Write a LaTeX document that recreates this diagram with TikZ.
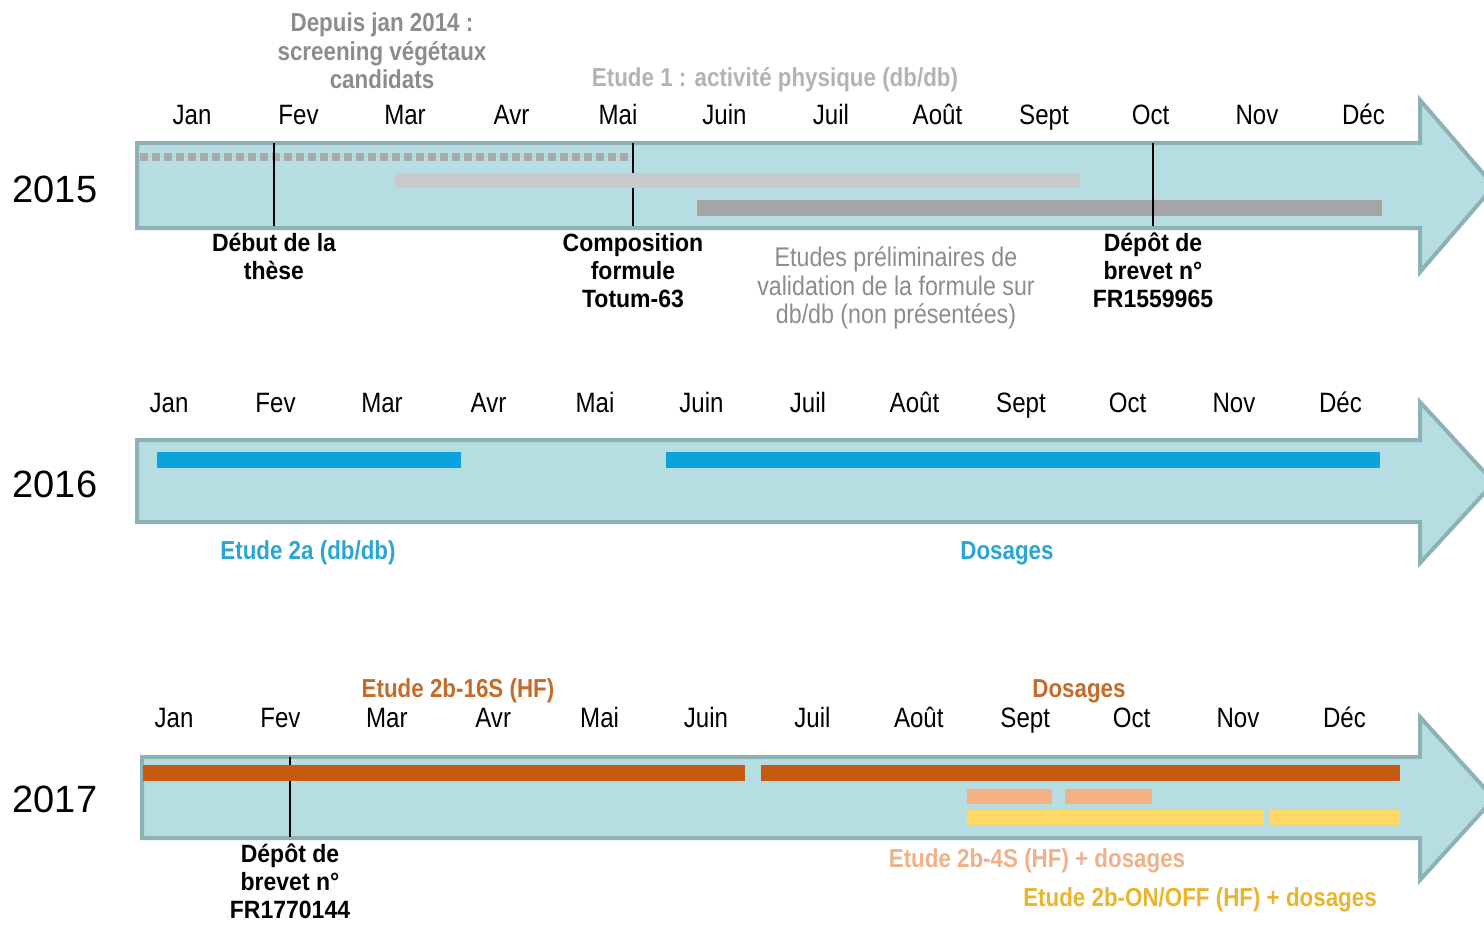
\documentclass[tikz,border=0pt]{standalone}
\usepackage{fontspec}
\setmainfont{Liberation Sans}
\newfontfamily\narrowfont[FakeStretch=0.86]{Liberation Sans}
\newfontfamily\notefont[FakeStretch=0.92]{Liberation Sans}
\usetikzlibrary{positioning}

\definecolor{tlfill}{HTML}{B6DEE2}
\definecolor{tlline}{HTML}{8DB2B5}
\definecolor{lightgrey}{HTML}{C9C9C9}
\definecolor{darkgrey}{HTML}{A5A5A5}
\definecolor{dashgrey}{HTML}{ABABAB}
\definecolor{textgrey}{HTML}{8C8C8C}
\definecolor{palegrey}{HTML}{B3B3B3}
\definecolor{dbblue}{HTML}{0AA3DB}
\definecolor{textblue}{HTML}{2AA6D3}
\definecolor{hforange}{HTML}{C55A11}
\definecolor{textorange}{HTML}{C46B2A}
\definecolor{lightorange}{HTML}{F4B183}
\definecolor{textlightorange}{HTML}{F0B08A}
\definecolor{onoffyellow}{HTML}{FFD966}
\definecolor{textyellow}{HTML}{E9B52E}

\begin{document}
\begin{tikzpicture}[
		x=0.5pt, y=-0.5pt
		,month/.style={font=\narrowfont\fontsize{14}{16}\selectfont, text height=1.6ex, text depth=.35ex}
		,year/.style={font=\fontsize{19}{22}\selectfont}
		,note/.style={align=center, font=\notefont\bfseries\fontsize{12.5}{14}\selectfont}
		,info/.style={align=center, font=\narrowfont\bfseries\fontsize{13}{14.2}\selectfont}
		,tl/.style={draw=tlline, fill=tlfill, line width=2pt, line join=miter}
		,bar/.style={line width=7.5pt}
		,marker/.style={black, line width=.7pt}
	]
	\useasboundingbox (0,0) rectangle (1484,926);

	% the three year arrows
	\foreach \t/\b/\ht/\hb/\l in {143/228/100/272/137, 440/522/402/563/137, 757/838/717/880/142}
		\draw[tl] (\l,\t) -- (1420,\t) -- (1420,\ht) -- (1494,{(\ht+\hb)/2}) -- (1420,\hb) -- (1420,\b) -- (\l,\b) -- cycle;

	\node[year] (y2015) at (55,189) {2015};
	\node[year] (y2016) at (55,484) {2016};
	\node[year] (y2017) at (55,799) {2017};

	\foreach \m [count=\i from 0] in {Jan,Fev,Mar,Avr,Mai,Juin,Juil,Août,Sept,Oct,Nov,Déc} {
		\node[month] (a\i) at ({192+106.5*\i},118) {\m};
		\node[month] (b\i) at ({169+106.5*\i},406) {\m};
		\node[month] (c\i) at ({174+106.4*\i},721) {\m};
	}

	% 2015
	\draw[bar, dashgrey, line width=4pt, dash pattern=on 4pt off 2pt] (140,157) -- (632,157);
	\draw[bar, darkgrey, line width=8pt] (697,208) -- (1382,208);
	\foreach \x/\n in {274/debut, 633/compo, 1153/brevetA} {
		\coordinate (\n-t) at (\x,143);
		\coordinate (\n-b) at (\x,226);
		\draw[marker] (\n-t) -- (\n-b);
	}
	\draw[bar, lightgrey] (395,180) -- (1080,180);

	\node[note, below=0pt of debut-b] (debut) {Début de la\\thèse};
	\node[note, below=0pt of compo-b] (compo) {Composition\\formule\\Totum-63};
	\node[note, below=0pt of brevetA-b] (brevetA) {Dépôt de\\brevet n°\\FR1559965};
	\node[info, textgrey] (depuis) at (382,51) {Depuis jan 2014 :\\screening végétaux\\candidats};
	\node[info, palegrey] (etude1) at (775,80) {Etude 1 : activité physique (db/db)};
	\node[align=center, textgrey, font=\narrowfont\fontsize{13.5}{14.3}\selectfont] (prelim) at (896,288)
		{Etudes préliminaires de\\validation de la formule sur\\db/db (non présentées)};

	% 2016
	\draw[bar, dbblue, line width=8pt] (157,460) -- (461,460);
	\draw[bar, dbblue, line width=8pt] (666,460) -- (1380,460);
	\node[info, textblue] (etude2a) at (308,553) {Etude 2a (db/db)};
	\node[info, textblue] (dosagesA) at (1007,553) {Dosages};

	% 2017
	\coordinate (brevetB-t) at (290,757);
	\coordinate (brevetB-b) at (290,837);
	\draw[marker] (brevetB-t) -- (brevetB-b);
	\draw[bar, hforange, line width=8pt] (143,773) -- (745,773);
	\draw[bar, hforange, line width=8pt] (761,773) -- (1400,773);
	\draw[bar, lightorange] (967,796) -- (1052,796);
	\draw[bar, lightorange] (1065,796) -- (1152,796);
	\draw[bar, onoffyellow] (967,817) -- (1264,817);
	\draw[bar, onoffyellow] (1270,817) -- (1400,817);

	\node[note, below=0pt of brevetB-b] (brevetB) {Dépôt de\\brevet n°\\FR1770144};
	\node[info, textorange] (etude16s) at (458,691) {Etude 2b-16S (HF)};
	\node[info, textorange] (dosagesB) at (1079,691) {Dosages};
	\node[info, textlightorange] (etude4s) at (1037,861) {Etude 2b-4S (HF) + dosages};
	\node[info, textyellow] (onoff) at (1200,900) {Etude 2b-ON/OFF (HF) + dosages};
\end{tikzpicture}
\end{document}
